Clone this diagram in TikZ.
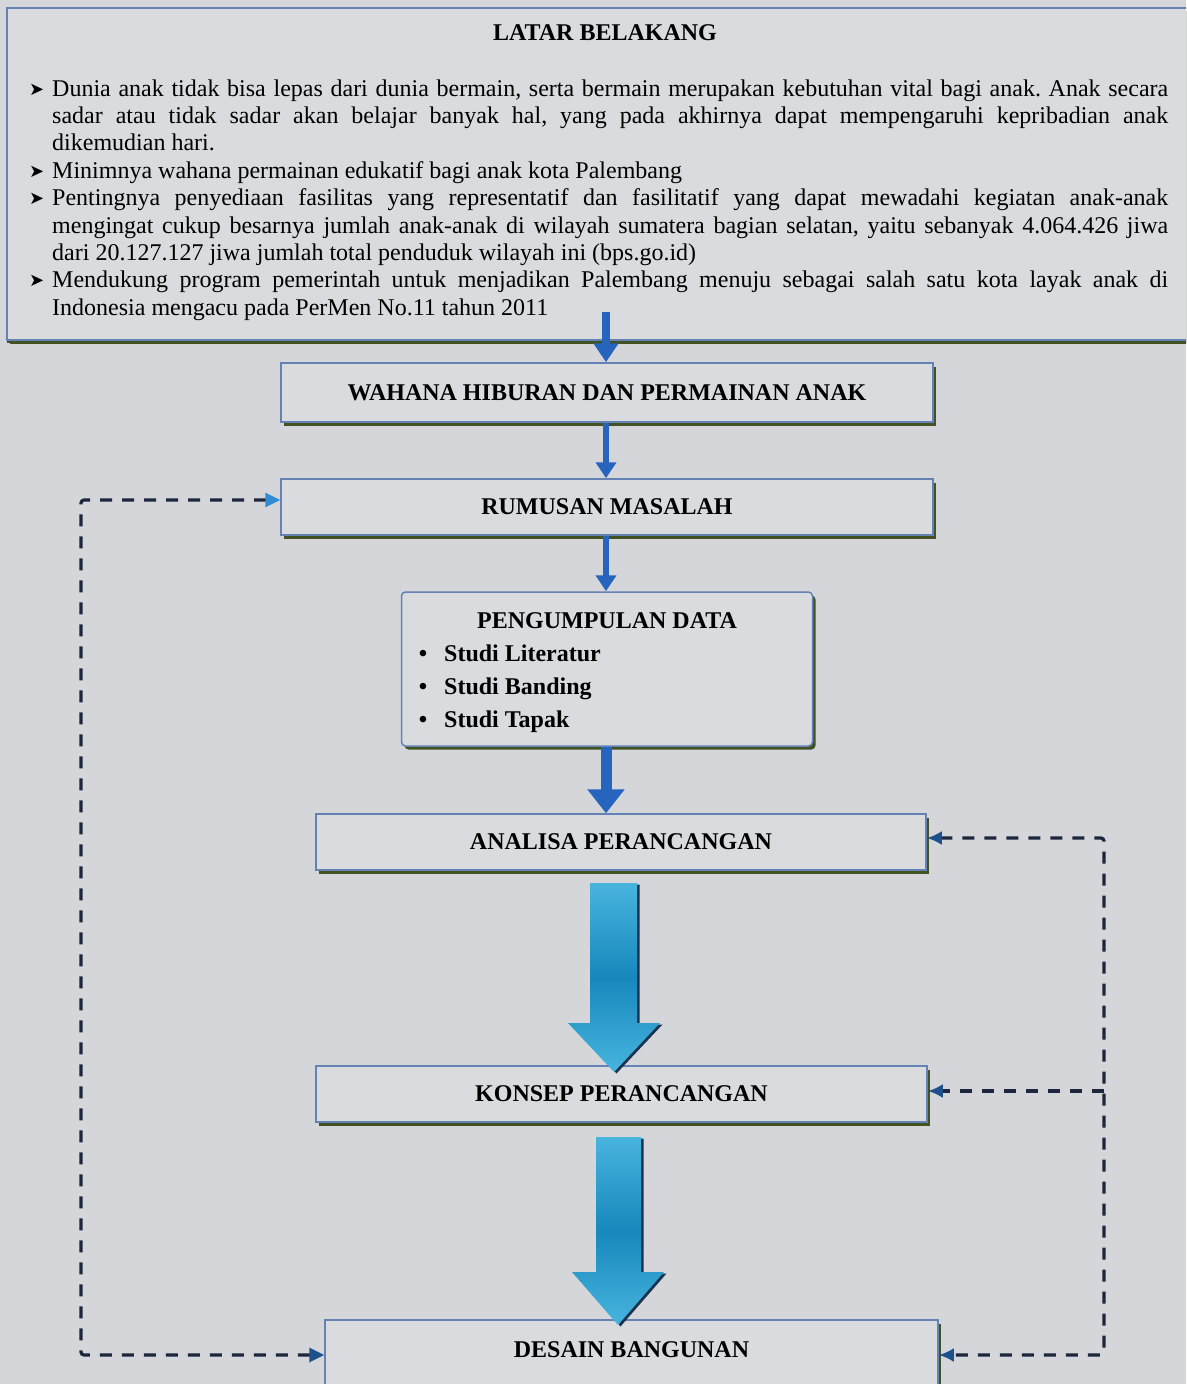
\documentclass[tikz,border=0pt]{standalone}
\usepackage{fontspec}
\setmainfont{Liberation Serif}
\newfontfamily\dejavu{DejaVu Sans}
\usetikzlibrary{arrows.meta,shadows}
\definecolor{bg}{RGB}{212,214,218}
\definecolor{boxfill}{RGB}{217,219,223}
\definecolor{boxline}{RGB}{100,130,180}
\definecolor{shadowc}{RGB}{66,82,34}
\definecolor{flowblue}{RGB}{38,100,190}
\definecolor{dashc}{RGB}{28,38,60}
\definecolor{tipblue}{RGB}{30,80,140}
\definecolor{tiplight}{RGB}{50,140,210}
\definecolor{arrLight}{RGB}{72,180,222}
\definecolor{arrDark}{RGB}{22,136,188}
\definecolor{arrEdge}{RGB}{25,50,80}
\begin{document}
\frenchspacing
\begin{tikzpicture}[x=1pt,y=-1pt,
  flowbox/.style={draw=boxline, line width=1.5pt, fill=boxfill, inner sep=0pt,
    drop shadow={shadow xshift=3pt, shadow yshift=-3.5pt, fill=shadowc, opacity=1},
    font=\bfseries\fontsize{24}{28}\selectfont},
  txt/.style={anchor=base west, inner sep=0pt, font=\fontsize{24}{27}\selectfont},
  bul/.style={anchor=base west, inner sep=0pt, font=\dejavu\fontsize{18}{20}\selectfont},
  itemtxt/.style={anchor=base west, inner sep=0pt, font=\bfseries\fontsize{24}{27}\selectfont},
  flowarrow/.style={draw=flowblue, line width=#1},
  dashline/.style={draw=dashc, line width=3.2pt, dash pattern=on 12pt off 10pt, rounded corners=3pt},
  bigarrow/.style={top color=arrLight, bottom color=arrLight, middle color=arrDark}
]
\clip (0,0) rectangle (1186,1384);
\useasboundingbox (0,0) rectangle (1186,1384);
\fill[bg] (0,0) rectangle (1186,1384);

% top box
\node[flowbox, minimum width=1188pt, minimum height=332pt, drop shadow={shadow xshift=0pt, shadow yshift=-3pt, fill=shadowc, opacity=1}] (latar) at (601,174) {};
\node[anchor=base, inner sep=0pt, font=\bfseries\fontsize{24}{28}\selectfont] (title) at (605,40) {LATAR BELAKANG};

\node[bul] (b1) at (29,95) {➤};
\node[txt] (l1) at (52,96) {\makebox[1116pt][s]{Dunia anak tidak bisa lepas dari dunia bermain, serta bermain merupakan kebutuhan vital bagi anak. Anak secara}};
\node[txt] (l2) at (52,123.4) {\makebox[1116pt][s]{sadar atau tidak sadar akan belajar banyak hal, yang pada akhirnya dapat mempengaruhi kepribadian anak}};
\node[txt] (l3) at (52,150.8) {dikemudian hari.};
\node[bul] (b2) at (29,177.2) {➤};
\node[txt] (l4) at (52,178.2) {Minimnya wahana permainan edukatif bagi anak kota Palembang};
\node[bul] (b3) at (29,204.6) {➤};
\node[txt] (l5) at (52,205.6) {\makebox[1116pt][s]{Pentingnya penyediaan fasilitas yang representatif dan fasilitatif yang dapat mewadahi kegiatan anak-anak}};
\node[txt] (l6) at (52,233) {\makebox[1116pt][s]{mengingat cukup besarnya jumlah anak-anak di wilayah sumatera bagian selatan, yaitu sebanyak 4.064.426 jiwa}};
\node[txt] (l7) at (52,260.4) {dari 20.127.127 jiwa jumlah total penduduk wilayah ini (bps.go.id)};
\node[bul] (b4) at (29,286.8) {➤};
\node[txt] (l8) at (52,287.8) {\makebox[1116pt][s]{Mendukung program pemerintah untuk menjadikan Palembang menuju sebagai salah satu kota layak anak di}};
\node[txt] (l9) at (52,315.2) {Indonesia mengacu pada PerMen No.11 tahun 2011};

% flow boxes
\node[flowbox, minimum width=652pt, minimum height=59pt] (wahana) at (607,392.5) {WAHANA HIBURAN DAN PERMAINAN ANAK};
\node[flowbox, minimum width=652pt, minimum height=56pt] (rumusan) at (607,507) {RUMUSAN MASALAH};
\node[flowbox, rounded corners=4pt, minimum width=411pt, minimum height=154pt] (data) at (607,669) {};
\node[anchor=base, inner sep=0pt, font=\bfseries\fontsize{24}{28}\selectfont] (datatitle) at (607,628) {PENGUMPULAN DATA};
\node[anchor=base, inner sep=0pt, font=\bfseries\fontsize{24}{27}\selectfont] (d1) at (423,661) {•};
\node[itemtxt] (i1) at (444,661) {Studi Literatur};
\node[anchor=base, inner sep=0pt, font=\bfseries\fontsize{24}{27}\selectfont] (d2) at (423,694) {•};
\node[itemtxt] (i2) at (444,694) {Studi Banding};
\node[anchor=base, inner sep=0pt, font=\bfseries\fontsize{24}{27}\selectfont] (d3) at (423,727) {•};
\node[itemtxt] (i3) at (444,727) {Studi Tapak};
\node[flowbox, minimum width=610pt, minimum height=56pt] (analisa) at (621,842) {ANALISA PERANCANGAN};
\node[flowbox, minimum width=611pt, minimum height=56pt] (konsep) at (621.5,1094) {KONSEP PERANCANGAN};
\node[flowbox, minimum width=613pt, minimum height=70pt] (desain) at (631.5,1355) {\raisebox{10pt}{DESAIN BANGUNAN}};

% solid flow arrows
\coordinate (topsrc) at (606,312);
\draw[flowarrow=8pt, -{Triangle[length=19pt,width=24pt]}] (topsrc) -- (topsrc |- wahana.north);
\draw[flowarrow=6pt, -{Triangle[length=16pt,width=20pt]}] (topsrc |- wahana.south) -- (topsrc |- rumusan.north);
\draw[flowarrow=6pt, -{Triangle[length=16pt,width=20pt]}] (topsrc |- rumusan.south) -- (topsrc |- data.north);
\draw[flowarrow=11pt, -{Triangle[length=24pt,width=36pt]}] (topsrc |- data.south) -- (topsrc |- analisa.north);

% big gradient arrows
\fill[arrEdge] (592.5,884.5) -- (639.5,884.5) -- (639.5,1024.5) -- (662.5,1024.5) -- (616.5,1073.5) -- (570.5,1024.5) -- (592.5,1024.5) -- cycle;
\shade[bigarrow] (590,883) -- (637,883) -- (637,1023) -- (660,1023) -- (614,1072) -- (568,1023) -- (590,1023) -- cycle;
\fill[arrEdge] (598.5,1138.5) -- (643.5,1138.5) -- (643.5,1273.5) -- (666.5,1273.5) -- (620.5,1326.5) -- (574.5,1273.5) -- (598.5,1273.5) -- cycle;
\shade[bigarrow] (596,1137) -- (641,1137) -- (641,1272) -- (664,1272) -- (618,1325) -- (572,1272) -- (596,1272) -- cycle;

% dashed feedback loops
\coordinate (leftc) at (81,1355);
\coordinate (rightc) at (1104,1355);
\draw[dashline, {Triangle[length=15pt,width=14pt,color=tiplight]}-{Triangle[length=15pt,width=14pt,color=tipblue]}]
  ([yshift=7pt]rumusan.west) -| (leftc) -- (desain.west);
\draw[dashline, {Latex[length=15pt,width=14pt,color=tipblue]}-{Latex[length=15pt,width=14pt,color=tipblue]}]
  ([yshift=4pt]analisa.east) -| (rightc) -- (desain.east);
\draw[dashline, -{Latex[length=15pt,width=14pt,color=tipblue]}]
  ([yshift=3pt]konsep.east -| rightc) -- ([yshift=3pt]konsep.east);
\end{tikzpicture}
\end{document}
